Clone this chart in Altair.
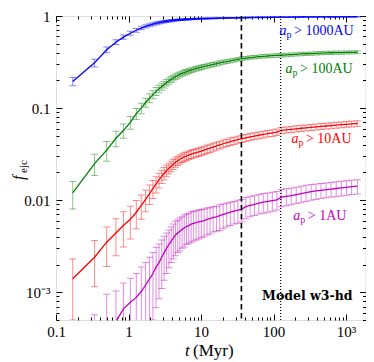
import altair as alt
import pandas as pd

# ---------------- data ----------------
t_myr = [0.17, 0.34, 0.5, 0.67, 0.85, 1.06, 1.28, 1.5, 1.72, 1.95,
         2.17, 2.4, 2.63, 2.87, 3.1, 3.35, 3.6, 3.87, 4.15, 4.45,
         4.77, 5.1, 5.47, 5.87, 6.3, 6.77, 7.3, 7.9, 8.55, 9.3,
         10.1, 11.0, 12.1, 13.3, 14.7, 16.3, 18.1, 20.2, 22.6, 25.3,
         28.5, 32.2, 36.5, 41.5, 47.5, 54.5, 62.5, 72, 83, 96,
         111, 128, 150, 175, 205, 240, 280, 330, 385, 450,
         530, 620, 730, 860, 1010, 1190, 1430]

f_1000 = [0.195, 0.31, 0.43, 0.52, 0.59, 0.65, 0.70, 0.74, 0.77, 0.795,
          0.815, 0.832, 0.846, 0.858, 0.868, 0.877, 0.884, 0.89, 0.896, 0.901,
          0.905, 0.909, 0.913, 0.916, 0.919, 0.922, 0.925, 0.928, 0.93, 0.933,
          0.935, 0.937, 0.939, 0.941, 0.943, 0.945, 0.947, 0.949, 0.951, 0.953,
          0.955, 0.957, 0.959, 0.961, 0.963, 0.964, 0.966, 0.967, 0.968, 0.969,
          0.970, 0.971, 0.972, 0.973, 0.974, 0.975, 0.976, 0.977, 0.977, 0.978,
          0.978, 0.979, 0.979, 0.98, 0.98, 0.981, 0.981]
e_1000 = [0.02, 0.03, 0.03, 0.031, 0.032, 0.033, 0.033, 0.032, 0.031, 0.03,
          0.029, 0.028, 0.027, 0.026, 0.025, 0.024, 0.023, 0.022, 0.021, 0.02,
          0.019, 0.018, 0.017, 0.016, 0.016, 0.015, 0.015, 0.014, 0.014, 0.013,
          0.013, 0.012, 0.012, 0.011, 0.011, 0.011, 0.01, 0.01, 0.01, 0.009,
          0.009, 0.009, 0.008, 0.008, 0.008, 0.008, 0.007, 0.007, 0.007, 0.007,
          0.007, 0.006, 0.006, 0.006, 0.006, 0.006, 0.006, 0.005, 0.005, 0.005,
          0.005, 0.005, 0.005, 0.005, 0.005, 0.005, 0.005]

f_100 = [0.012, 0.025, 0.035, 0.047, 0.057, 0.07, 0.087, 0.1, 0.115, 0.128,
         0.14, 0.152, 0.162, 0.171, 0.18, 0.189, 0.197, 0.205, 0.212, 0.219,
         0.226, 0.232, 0.238, 0.243, 0.248, 0.253, 0.258, 0.263, 0.268, 0.273,
         0.278, 0.283, 0.288, 0.293, 0.298, 0.303, 0.309, 0.315, 0.32, 0.326,
         0.332, 0.338, 0.344, 0.349, 0.354, 0.358, 0.362, 0.365, 0.368, 0.371,
         0.373, 0.375, 0.378, 0.381, 0.384, 0.387, 0.389, 0.391, 0.393, 0.395,
         0.397, 0.399, 0.4, 0.401, 0.402, 0.403, 0.404]
e_100 = [0.004, 0.0065, 0.0085, 0.009, 0.01, 0.011, 0.012, 0.013, 0.013, 0.014,
         0.014, 0.015, 0.015, 0.015, 0.015, 0.015, 0.015, 0.015, 0.015, 0.015,
         0.015, 0.015, 0.015, 0.015, 0.015, 0.015, 0.015, 0.015, 0.015, 0.015,
         0.015, 0.015, 0.015, 0.015, 0.015, 0.015, 0.015, 0.015, 0.015, 0.015,
         0.015, 0.015, 0.015, 0.015, 0.015, 0.015, 0.015, 0.016, 0.016, 0.016,
         0.016, 0.016, 0.016, 0.016, 0.016, 0.016, 0.016, 0.016, 0.016, 0.016,
         0.016, 0.016, 0.016, 0.016, 0.016, 0.016, 0.016]

f_10 = [0.0014, 0.0024, 0.0035, 0.0044, 0.0053, 0.0062, 0.0074, 0.0088, 0.0102, 0.0118,
        0.0134, 0.015, 0.0166, 0.0182, 0.0196, 0.021, 0.0222, 0.0234, 0.0246, 0.0258,
        0.0268, 0.0278, 0.0287, 0.0295, 0.0302, 0.0309, 0.0316, 0.0322, 0.0328, 0.0334,
        0.0341, 0.0349, 0.0358, 0.0367, 0.0377, 0.0388, 0.0399, 0.041, 0.0421, 0.0432,
        0.0443, 0.0454, 0.0465, 0.0476, 0.0487, 0.0497, 0.0507, 0.0517, 0.0527, 0.0537,
        0.0548, 0.0572, 0.058, 0.0588, 0.0596, 0.0604, 0.0611, 0.0618, 0.0625, 0.0632,
        0.0639, 0.0646, 0.0653, 0.066, 0.0667, 0.0674, 0.068]
e_10 = [0.0009, 0.00125, 0.0016, 0.0019, 0.0022, 0.0024, 0.0025, 0.0026, 0.0027, 0.0028,
        0.003, 0.003, 0.003, 0.003, 0.003, 0.003, 0.003, 0.003, 0.003, 0.003,
        0.003, 0.0031, 0.0031, 0.0032, 0.0032, 0.0033, 0.0033, 0.0034, 0.0034, 0.0035,
        0.0035, 0.0036, 0.0036, 0.0037, 0.0037, 0.0038, 0.0038, 0.0039, 0.0039, 0.004,
        0.004, 0.004, 0.0041, 0.0041, 0.0042, 0.0042, 0.0042, 0.0043, 0.0043, 0.0044,
        0.0044, 0.0045, 0.0045, 0.0045, 0.0046, 0.0046, 0.0046, 0.0047, 0.0047, 0.0047,
        0.0047, 0.0048, 0.0048, 0.0048, 0.0048, 0.0049, 0.0049]

f_1 = [0.0001, 0.0002, 0.00035, 0.00048, 0.00066, 0.00078, 0.00088, 0.00102, 0.0012, 0.0014,
       0.0016, 0.00188, 0.0021, 0.0024, 0.0027, 0.003, 0.0033, 0.0036, 0.0039, 0.0042,
       0.0044, 0.0046, 0.0048, 0.005, 0.0052, 0.0053, 0.0055, 0.0056, 0.0057, 0.0058,
       0.0059, 0.006, 0.0062, 0.0063, 0.0065, 0.0066, 0.0068, 0.007, 0.0072, 0.0074,
       0.0076, 0.0078, 0.008, 0.0085, 0.0088, 0.009, 0.0093, 0.0095, 0.0097, 0.0099,
       0.0101, 0.0108, 0.011, 0.0112, 0.0115, 0.0118, 0.0121, 0.0124, 0.0126, 0.0128,
       0.013, 0.0132, 0.0134, 0.0136, 0.0138, 0.014, 0.0142]
e_1 = [0.0001, 0.00037, 0.0006, 0.00055, 0.0006, 0.00064, 0.00072, 0.00086, 0.0009, 0.001,
       0.0011, 0.0012, 0.00125, 0.0013, 0.00135, 0.0014, 0.00145, 0.0015, 0.0016, 0.0017,
       0.0017, 0.0018, 0.0018, 0.0019, 0.0019, 0.0019, 0.002, 0.002, 0.002, 0.002,
       0.002, 0.002, 0.002, 0.002, 0.002, 0.002, 0.0021, 0.0021, 0.0021, 0.0021,
       0.0021, 0.0022, 0.0022, 0.0022, 0.0022, 0.0022, 0.0022, 0.0023, 0.0023, 0.0023,
       0.0023, 0.0023, 0.0023, 0.0023, 0.0023, 0.0024, 0.0024, 0.0024, 0.0024, 0.0024,
       0.0024, 0.0024, 0.0025, 0.0025, 0.0025, 0.0025, 0.0025]

series_names = ["ap>1000AU", "ap>100AU", "ap>10AU", "ap>1AU"]
series_colors = ["#0000ff", "#008000", "#ff0000", "#bf00bf"]

label_rest = ["> 1000AU", "> 100AU", "> 10AU", "> 1AU"]
label_t = [121, 146, 176, 187]
label_f = [0.616, 0.239, 0.0413, 0.00608]

vline_t = [36, 125]

model_text = ["Model w3-hd"]
model_t = [1226]
model_f = [0.00082]

x_major = [0.1, 1, 10, 100, 1000]
x_minor = [k * 10.0 ** d for d in range(-1, 4) for k in range(2, 10) if k * 10.0 ** d <= 1850]
y_major = [0.001, 0.01, 0.1, 1]
y_minor = [k * 10.0 ** d for d in range(-4, 0) for k in range(2, 10) if k * 10.0 ** d >= 5e-4]

# ---------------- tables ----------------
rows = []
for name, vals, errs in zip(series_names, [f_1000, f_100, f_10, f_1], [e_1000, e_100, e_10, e_1]):
    for ti, v, e in zip(t_myr, vals, errs):
        rows.append({"series": name, "t": ti, "f": v, "lo": max(v - e, 1e-7), "hi": v + e})
df = pd.DataFrame(rows)

lab_df = pd.DataFrame({"series": series_names, "rest": label_rest, "tx": label_t, "ty": label_f})
vl_df = pd.DataFrame({"t": vline_t})
model_df = pd.DataFrame({"txt": model_text, "tx": model_t, "ty": model_f})

W, H = 309.5, 304
xs = alt.Scale(type="log", domain=[0.1, 1850], nice=False)
ys = alt.Scale(type="log", domain=[5e-4, 1], nice=False)
col = alt.Color("series:N", scale=alt.Scale(domain=series_names, range=series_colors), legend=None)

SERIF = "Liberation Serif"

x_lab_expr = ("datum.value < 0.5 ? '0.1' : datum.value < 5 ? '1' : datum.value < 50 ? '10' : "
              "datum.value < 500 ? '100' : '10³'")
y_lab_expr = ("datum.value > 0.5 ? '1' : datum.value > 0.05 ? '0.1' : datum.value > 0.005 ? '0.01' : '10⁻³'")

def tick_axis(orient, offset, values, size):
    return alt.Axis(orient=orient, offset=offset, values=values, tickSize=size, labels=False,
                    domain=False, grid=False, title=None, tickColor="black", tickWidth=1)

ax_x_lab = alt.Axis(orient="bottom", values=x_major, labelExpr=x_lab_expr, ticks=False, tickSize=0,
                    domain=False, grid=False, title=None, labelFont=SERIF, labelFontSize=15,
                    labelColor="black", labelPadding=4, labelFlush=False, labelOverlap=False, labelBound=False)
ax_y_lab = alt.Axis(orient="left", values=y_major, labelExpr=y_lab_expr, ticks=False, tickSize=0,
                    domain=False, grid=False, title=None, labelFont=SERIF, labelFontSize=15,
                    labelColor="black", labelPadding=6, labelFlush=False, labelOverlap=False, labelBound=False)

lines = alt.Chart(df).mark_line(clip=True, strokeWidth=1.3).encode(
    x=alt.X("t:Q", scale=xs, axis=ax_x_lab),
    y=alt.Y("f:Q", scale=ys, axis=ax_y_lab),
    color=col,
)
stems = alt.Chart(df).mark_rule(clip=True, opacity=0.45, strokeWidth=1).encode(
    x=alt.X("t:Q", scale=xs, axis=tick_axis("top", -H, x_major, 6)),
    y=alt.Y("lo:Q", scale=ys, axis=tick_axis("right", -W, y_major, 6)),
    y2="hi:Q",
    color=col,
)
caps_lo = alt.Chart(df).mark_tick(clip=True, orient="horizontal", size=7, thickness=1, opacity=0.45).encode(
    x=alt.X("t:Q", scale=xs, axis=tick_axis("top", -H, x_minor, 3)),
    y=alt.Y("lo:Q", scale=ys, axis=tick_axis("right", -W, y_minor, 3)),
    color=col,
)
caps_hi = alt.Chart(df).mark_tick(clip=True, orient="horizontal", size=7, thickness=1, opacity=0.45).encode(
    x=alt.X("t:Q", scale=xs, axis=tick_axis("bottom", -H, x_major, 6)),
    y=alt.Y("hi:Q", scale=ys, axis=tick_axis("left", -W, y_major, 6)),
    color=col,
)

vdash = alt.Chart(vl_df.iloc[[0]]).mark_rule(color="black", strokeWidth=1.6, strokeDash=[5.5, 3.5]).encode(
    x=alt.X("t:Q", scale=xs, axis=None))
vdot = alt.Chart(vl_df.iloc[[1]]).mark_rule(color="black", strokeWidth=1.2, strokeDash=[1, 2]).encode(
    x=alt.X("t:Q", scale=xs, axis=None))

lab_a = alt.Chart(lab_df).mark_text(text="a", font=SERIF, fontStyle="italic", fontSize=14,
                                    align="left", baseline="alphabetic").encode(
    x=alt.X("tx:Q", scale=xs, axis=tick_axis("bottom", -H, x_minor, 3)),
    y=alt.Y("ty:Q", scale=ys, axis=tick_axis("left", -W, y_minor, 3)),
    color=col,
)
lab_p = alt.Chart(lab_df).mark_text(text="p", font=SERIF, fontSize=10, align="left",
                                    baseline="alphabetic", dx=7, dy=3).encode(
    x=alt.X("tx:Q", scale=xs, axis=None),
    y=alt.Y("ty:Q", scale=ys, axis=None),
    color=col,
)
lab_rest = alt.Chart(lab_df).mark_text(font=SERIF, fontSize=14, align="left",
                                       baseline="alphabetic", dx=14.5).encode(
    x=alt.X("tx:Q", scale=xs, axis=None),
    y=alt.Y("ty:Q", scale=ys, axis=None),
    text="rest:N",
    color=col,
)
model = alt.Chart(model_df).mark_text(font="DejaVu Serif", fontWeight="bold", fontSize=12.5,
                                      align="right", baseline="alphabetic", color="black").encode(
    x=alt.X("tx:Q", scale=xs, axis=None),
    y=alt.Y("ty:Q", scale=ys, axis=None),
    text="txt:N",
)

one = alt.Data(values=[{}])
xt_t = alt.Chart(one).mark_text(text="t", font=SERIF, fontStyle="italic", fontSize=17, align="left",
                                baseline="alphabetic", color="black").encode(
    x=alt.value(129), y=alt.value(340))
xt_rest = alt.Chart(one).mark_text(text="(Myr)", font=SERIF, fontSize=17, align="left",
                                   baseline="alphabetic", color="black").encode(
    x=alt.value(137), y=alt.value(340))
yt_f = alt.Chart(one).mark_text(text="f", font=SERIF, fontStyle="italic", fontSize=16, align="left",
                                baseline="alphabetic", angle=270, color="black").encode(
    x=alt.value(-32), y=alt.value(164))
yt_sub = alt.Chart(one).mark_text(text="ejc", font=SERIF, fontSize=11, align="left",
                                  baseline="alphabetic", angle=270, color="black").encode(
    x=alt.value(-29), y=alt.value(157))

chart = alt.layer(
    lines, stems, caps_lo, caps_hi, vdash, vdot, lab_a, lab_p, lab_rest, model,
    xt_t, xt_rest, yt_f, yt_sub,
).resolve_axis(x="independent", y="independent").properties(
    width=W, height=H,
    padding={"left": 48, "top": 8, "right": 0.5, "bottom": 41},
    autosize=alt.AutoSizeParams(type="none"),
).configure_view(stroke="black", strokeWidth=1.2).configure(background="white")

chart.save("out.html", embed_options={"renderer": "svg", "actions": False})
